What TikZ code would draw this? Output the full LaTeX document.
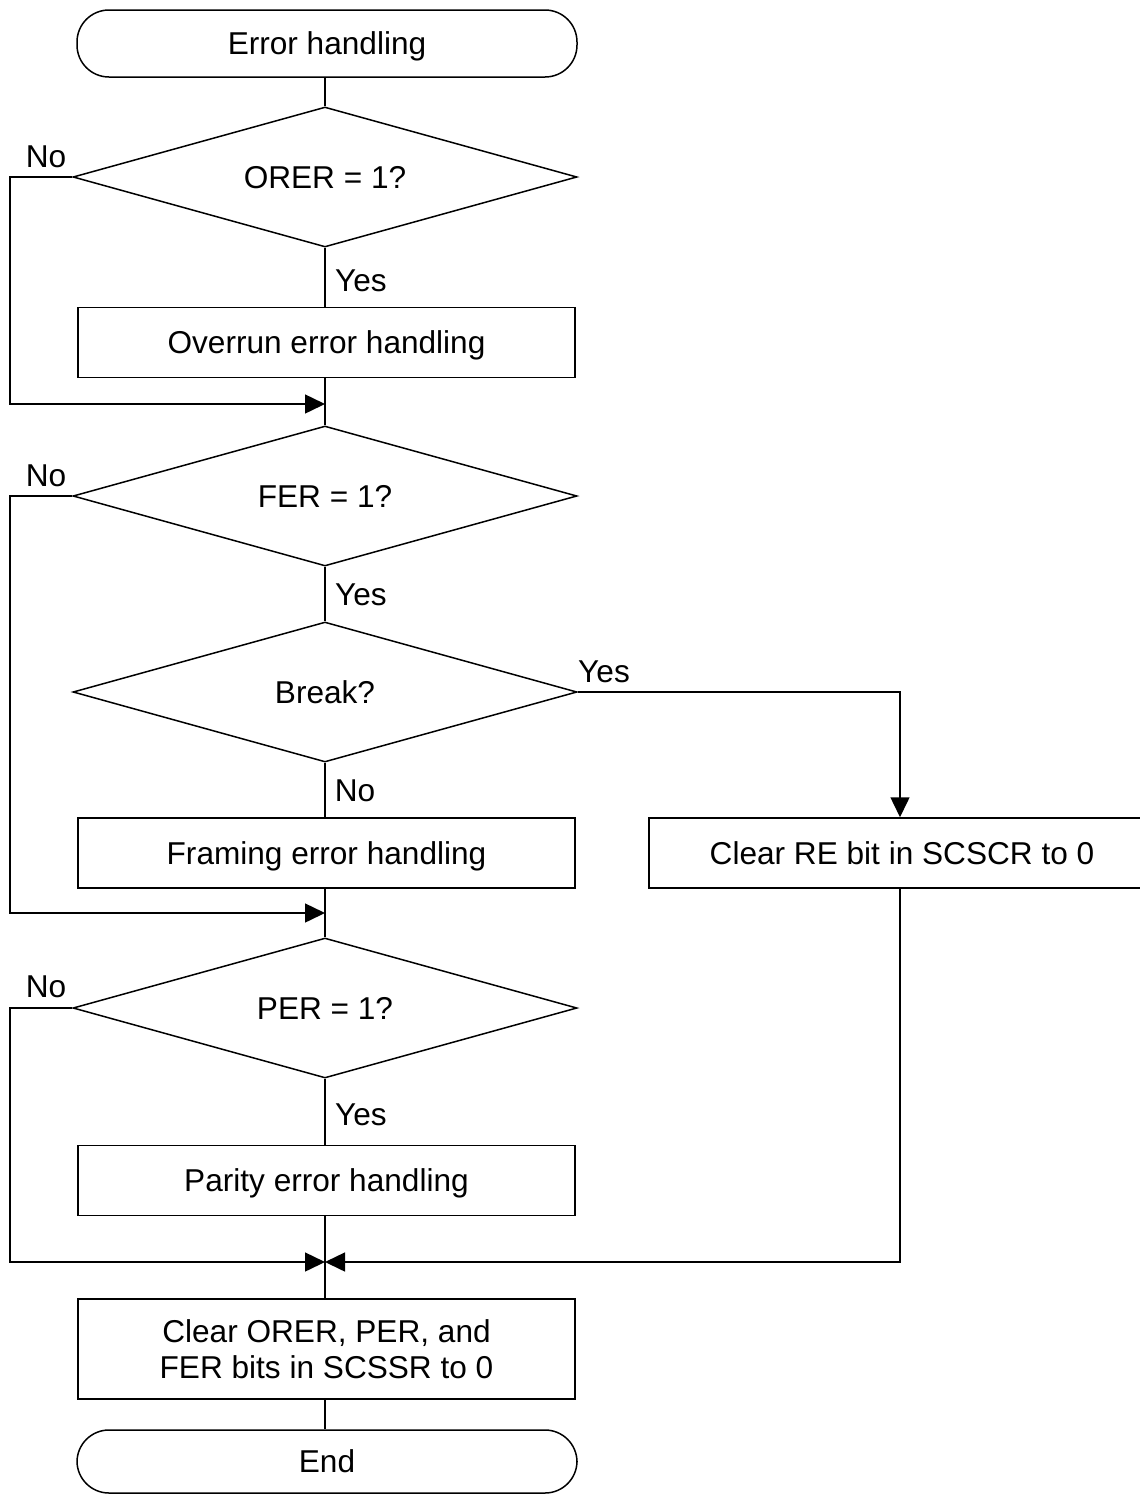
\documentclass[tikz,border=0pt]{standalone}
\usepackage{fontspec}
\setmainfont{Liberation Sans}
\usetikzlibrary{shapes.geometric,arrows.meta}
\begin{document}
\begin{tikzpicture}[x=0.5pt,y=-0.5pt,
  every node/.style={font=\fontsize{15.8}{19}\selectfont},
  base/.style={draw,line width=0.75pt,inner sep=0pt,align=center},
  one/.style={text height=12.6pt,text depth=1.4pt},
  term/.style={base,one,rounded corners=16pt,minimum width=250pt,minimum height=33.5pt},
  proc/.style={base,one,minimum width=248.5pt,minimum height=35pt},
  proctwo/.style={base,minimum width=248.5pt,minimum height=50pt},
  dec/.style={base,one,diamond,aspect=3.6,minimum width=252pt,minimum height=70pt},
  lbl/.style={inner sep=0pt},
  line/.style={line width=0.75pt},
  arr/.style={line,-{Triangle[length=10pt,width=9.5pt]}}]
\useasboundingbox (0,0) rectangle (1140,1494);
\node[term] (start) at (327,43.5) {Error handling};
\node[dec] (orer) at (325,177) {ORER = 1?};
\node[proc] (over) at (326.5,342.5) {Overrun error handling};
\node[dec] (fer) at (325,496) {FER = 1?};
\node[dec] (brk) at (325,692) {Break?};
\node[proc] (fram) at (326.5,853) {Framing error handling};
\node[proc,minimum width=253pt] (clre) at (902,853) {Clear RE bit in SCSCR to 0};
\node[dec] (per) at (325,1008) {PER = 1?};
\node[proc] (par) at (326.5,1180.5) {Parity error handling};
\node[proctwo] (clr) at (326.5,1349) {Clear ORER, PER, and\\[-1pt]FER bits in SCSSR to 0};
\node[term,minimum height=31.5pt] (end) at (327,1461.5) {End};

\coordinate (j1) at (325,404);
\coordinate (j2) at (325,913);
\coordinate (j3) at (325,1262);

\node[lbl] at (46,157) {No};
\node[lbl] at (361,281) {Yes};
\node[lbl] at (46,476) {No};
\node[lbl] at (361,595) {Yes};
\node[lbl] at (604,672) {Yes};
\node[lbl] at (355,791) {No};
\node[lbl] at (46,987) {No};
\node[lbl] at (361,1115) {Yes};

\draw[line] (start.south -| orer.north) -- (orer.north);
\draw[line] (orer.south) -- (over.north -| orer.south);
\draw[line] (over.south -| orer.south) -- (fer.north);
\draw[arr] (orer.west) -- (10,177) -- (10,404) -- (j1);
\draw[line] (fer.south) -- (brk.north);
\draw[arr] (fer.west) -- (10,496) -- (10,913) -- (j2);
\draw[line] (brk.south) -- (fram.north -| brk.south);
\draw[arr] (brk.east) -- (900,692) -- (clre.north -| 900,0);
\draw[line] (fram.south -| brk.south) -- (per.north);
\draw[arr] (per.west) -- (10,1008) -- (10,1262) -- (j3);
\draw[line] (per.south) -- (par.north -| per.south);
\draw[line] (par.south -| per.south) -- (clr.north -| per.south);
\draw[arr] (clre.south -| 900,0) -- (900,1262) -- (j3);
\draw[line] (clr.south -| per.south) -- (end.north -| per.south);
\end{tikzpicture}
\end{document}
